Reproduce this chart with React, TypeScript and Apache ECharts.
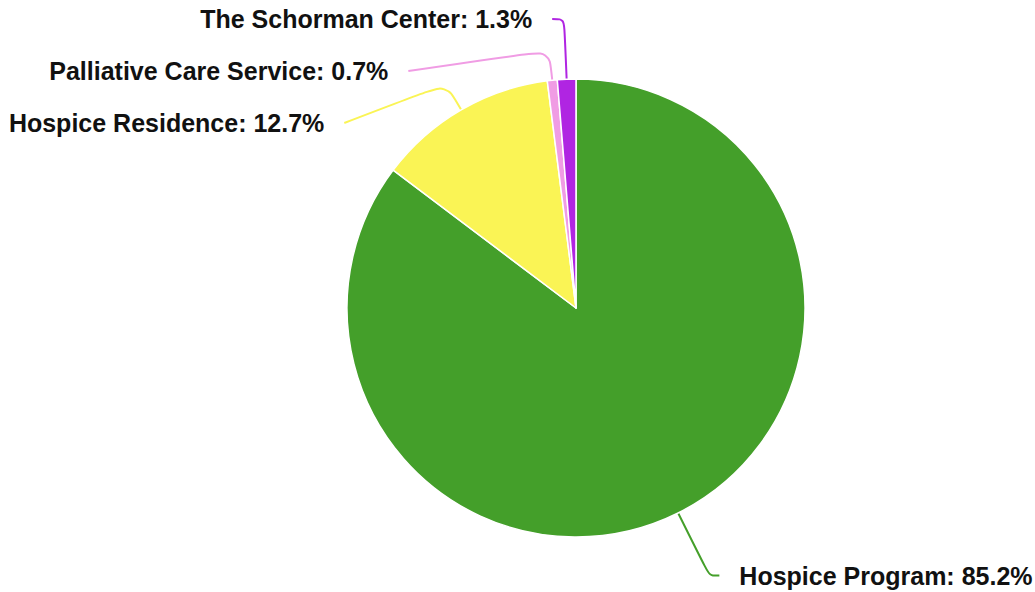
import React, { useEffect, useRef } from "react";
import * as echarts from "echarts";

const categories = ["Hospice Program", "Hospice Residence", "Palliative Care Service", "The Schorman Center"];
const values = [85.2, 12.7, 0.7, 1.3];
const colors = ["#449f2a", "#faf455", "#f09ce4", "#b025e2"];
const lineLengths = [70, 30, 30, 60];
const lineLengths2 = [10, 50, 36, 12];

const CX = 576;
const CY = 308;
const LEFT_LIFT = -7;

export default function App() {
  const ref = useRef<HTMLDivElement>(null);
  useEffect(() => {
    document.body.style.margin = "0";
    const chart = echarts.init(ref.current!, null, { renderer: "svg" });
    chart.setOption({
      animation: false,
      backgroundColor: "#ffffff",
      series: [
        {
          type: "pie",
          center: [CX, CY],
          radius: 229,
          startAngle: 90,
          clockwise: true,
          avoidLabelOverlap: true,
          labelLayout: (p: any) => {
            const pts = p.labelLinePoints;
            if (!pts || pts.length < 3) return {};
            const i = p.dataIndex;
            const lift = i === 0 ? 0 : LEFT_LIFT;
            const ex = pts[0][0];
            const ey = pts[0][1];
            const dx = ex - CX;
            const dy = ey - CY;
            const d = Math.hypot(dx, dy) || 1;
            const bend = [ex + (dx / d) * lineLengths[i], ey + (dy / d) * lineLengths[i]];
            return {
              dy: lift,
              labelLinePoints: [[ex, ey], bend, [pts[2][0], pts[2][1] + lift]],
            };
          },
          data: categories.map((name, i) => ({
            name,
            value: values[i],
            itemStyle: { color: colors[i] },
            label: i === 0 ? {} : { lineHeight: 50 },
            labelLine: {
              length: lineLengths[i],
              length2: lineLengths2[i],
              lineStyle: { color: colors[i] },
            },
          })),
          itemStyle: { borderColor: "#ffffff", borderWidth: 1.5 },
          label: {
            formatter: "{b}: {c}%",
            color: "#111111",
            fontFamily: "Liberation Sans, Arial, sans-serif",
            fontWeight: "bold",
            fontSize: 25,
            overflow: "none",
            distanceToLabelLine: 20,
          },
          labelLine: {
            show: true,
            smooth: 0.3,
            lineStyle: { width: 2 },
          },
        },
      ],
    });
    return () => chart.dispose();
  }, []);
  return <div ref={ref} style={{ width: 1035, height: 592 }} />;
}
